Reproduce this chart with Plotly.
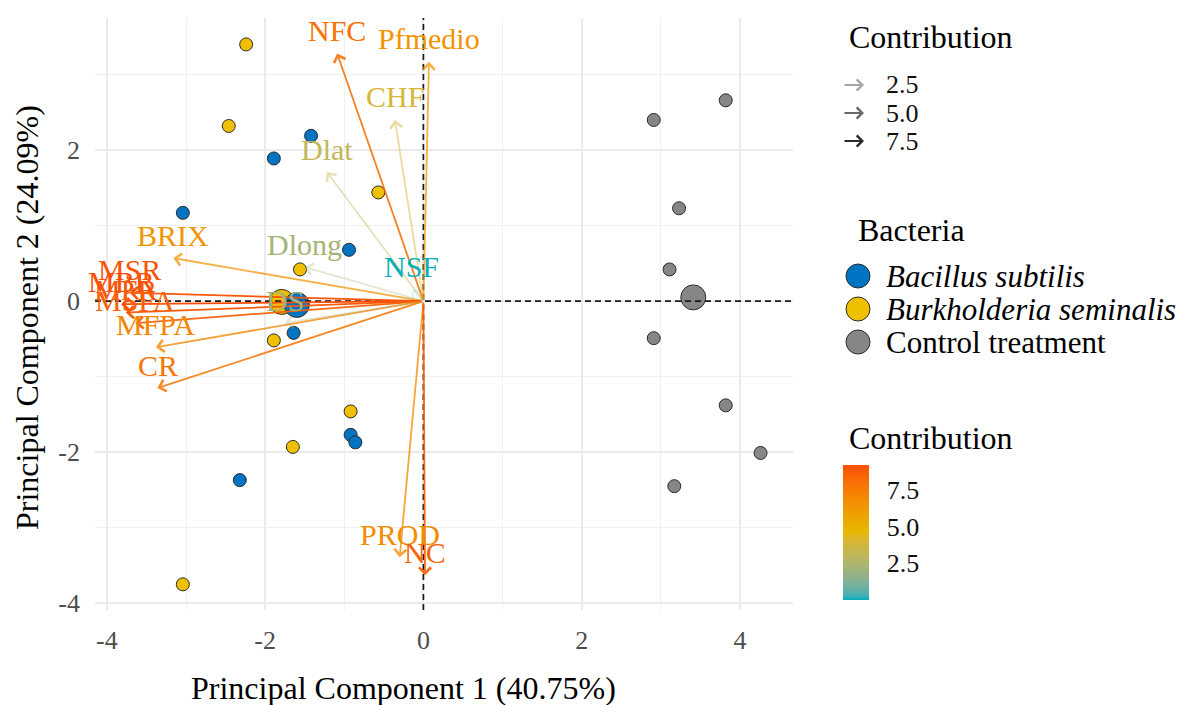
import plotly.graph_objects as go
from plotly.colors import sample_colorscale

# ---------------- data ----------------
groups = ["Bacillus subtilis", "Burkholderia seminalis", "Control treatment"]
group_colors = ["#0073C2", "#EFC000", "#868686"]

bs_pc1 = [-3.04, -1.89, -1.42, -0.94, -1.64, -0.92, -0.86, -2.32]
bs_pc2 = [1.17, 1.89, 2.19, 0.68, -0.42, -1.77, -1.87, -2.37]
bsem_pc1 = [-2.24, -2.46, -0.57, -1.56, -1.89, -0.92, -1.65, -3.04]
bsem_pc2 = [3.40, 2.32, 1.44, 0.42, -0.52, -1.46, -1.93, -3.75]
ctrl_pc1 = [2.91, 3.82, 3.23, 3.11, 2.91, 3.82, 4.26, 3.17]
ctrl_pc2 = [2.40, 2.66, 1.23, 0.42, -0.49, -1.38, -2.01, -2.45]

centroid_pc1 = [-1.60, -1.79, 3.41]
centroid_pc2 = [-0.05, -0.01, 0.05]

variables = ["NFC", "Pfmedio", "CHF", "Dlat", "Dlong", "NSF", "BRIX", "MSR",
             "MBR", "MFR", "MSFA", "MFPA", "CR", "DS", "PROD", "NC"]
var_pc1 = [-1.09, 0.07, -0.36, -1.22, -1.50, -0.15, -3.16, -3.71,
           -3.82, -3.76, -3.64, -3.38, -3.36, -1.75, -0.30, 0.02]
var_pc2 = [3.28, 3.17, 2.40, 1.71, 0.45, 0.15, 0.57, 0.11,
           -0.04, -0.15, -0.29, -0.61, -1.15, -0.29, -3.39, -3.63]
var_contrib = [8.0, 6.4, 3.9, 3.2, 2.2, 0.03, 6.4, 9.0,
               9.2, 8.9, 8.6, 7.0, 7.8, 2.0, 6.8, 8.5]

contrib_legend_vals = [2.5, 5.0, 7.5]
axis_tickvals = [-4, -2, 0, 2, 4]
axis_ticktext = ["-4", "-2", "0", "2", "4"]

x_title = "Principal Component 1 (40.75%)"
y_title = "Principal Component 2 (24.09%)"

FONT = "Liberation Serif"

# ---------------- colour helpers (Lab interpolation like ggplot) ----------------
def _hex2rgb(h):
    h = h.lstrip("#")
    return [int(h[i:i + 2], 16) / 255 for i in (0, 2, 4)]

def _lin(c):
    return c / 12.92 if c <= 0.04045 else ((c + 0.055) / 1.055) ** 2.4

def _delin(c):
    c = max(0.0, min(1.0, c))
    return 12.92 * c if c <= 0.0031308 else 1.055 * c ** (1 / 2.4) - 0.055

_WP = (0.95047, 1.0, 1.08883)

def _rgb2lab(rgb):
    r, g, b = [_lin(c) for c in rgb]
    X = 0.4124 * r + 0.3576 * g + 0.1805 * b
    Y = 0.2126 * r + 0.7152 * g + 0.0722 * b
    Z = 0.0193 * r + 0.1192 * g + 0.9505 * b
    def f(t):
        return t ** (1 / 3) if t > 0.008856 else 7.787 * t + 16 / 116
    fx, fy, fz = f(X / _WP[0]), f(Y / _WP[1]), f(Z / _WP[2])
    return [116 * fy - 16, 500 * (fx - fy), 200 * (fy - fz)]

def _lab2rgb(lab):
    L_, a, b = lab
    fy = (L_ + 16) / 116
    fx = fy + a / 500
    fz = fy - b / 200
    def fi(t):
        return t ** 3 if t ** 3 > 0.008856 else (t - 16 / 116) / 7.787
    X, Y, Z = fi(fx) * _WP[0], fi(fy) * _WP[1], fi(fz) * _WP[2]
    r = 3.2406 * X - 1.5372 * Y - 0.4986 * Z
    g = -0.9689 * X + 1.8758 * Y + 0.0415 * Z
    bb = 0.0557 * X - 0.2040 * Y + 1.0570 * Z
    return [_delin(c) for c in (r, g, bb)]

anchors = ["#00AFBB", "#E7B800", "#FC4E07"]
labs = [_rgb2lab(_hex2rgb(h)) for h in anchors]
colorscale = []
nstops = 40
for i in range(nstops + 1):
    t = i / nstops
    seg = 0 if t <= 0.5 else 1
    u = (t - 0.5 * seg) / 0.5
    lab = [labs[seg][k] + (labs[seg + 1][k] - labs[seg][k]) * u for k in range(3)]
    rgb = _lab2rgb(lab)
    colorscale.append([t, "rgb(%d,%d,%d)" % tuple(round(c * 255) for c in rgb)])

cmin, cmax = 0.0, 9.2

def norm(v):
    return (v - cmin) / (cmax - cmin)

def alpha_of(v):
    return 0.1 + 0.9 * norm(v)

def col_of(v, a=None):
    s = sample_colorscale(colorscale, [min(1, max(0, norm(v)))])[0]
    nums = s[s.index("(") + 1:s.index(")")].split(",")
    r, g, b = [int(float(n)) for n in nums]
    if a is None:
        return "rgb(%d,%d,%d)" % (r, g, b)
    return "rgba(%d,%d,%d,%.3f)" % (r, g, b, a)

# ---------------- layout geometry ----------------
W, H = 1187, 705
L, R, T, B = 95, 394, 18, 95
PW, PH = W - L - R, H - T - B

def pxx(p):
    return (p - L) / PW

def pxy(p):
    return (H - B - p) / PH

fig = go.Figure()

# individuals
for name, xs, ys, c in zip(groups, [bs_pc1, bsem_pc1, ctrl_pc1],
                           [bs_pc2, bsem_pc2, ctrl_pc2], group_colors):
    fig.add_trace(go.Scatter(x=xs, y=ys, mode="markers", name=name, showlegend=False,
                             marker=dict(size=13, color=c,
                                         line=dict(color="#2b2b2b", width=1))))

# centroids (yellow drawn first so blue sits on top as in the reference)
for i in [1, 0, 2]:
    fig.add_trace(go.Scatter(x=[centroid_pc1[i]], y=[centroid_pc2[i]], mode="markers",
                             showlegend=False,
                             marker=dict(size=25, color=group_colors[i],
                                         line=dict(color="#2b2b2b", width=1))))

# invisible trace carrying the contribution colour bar
fig.add_trace(go.Scatter(
    x=var_pc1, y=var_pc2, mode="markers", showlegend=False, hoverinfo="skip",
    marker=dict(size=1, opacity=0, color=var_contrib, colorscale=colorscale,
                cmin=cmin, cmax=cmax, showscale=True,
                colorbar=dict(x=pxx(843), xanchor="left", xpad=0,
                              y=pxy(532.5), yanchor="middle", ypad=0,
                              len=135, lenmode="pixels", thickness=26,
                              outlinewidth=0, title=dict(text=""),
                              tickvals=contrib_legend_vals,
                              ticktext=["%.1f" % v for v in contrib_legend_vals],
                              ticks="outside", ticklen=13, tickcolor="rgba(0,0,0,0)",
                              tickfont=dict(family=FONT, size=26, color="#111")))))

annotations = []
shapes = []

# dashed reference lines
shapes.append(dict(type="line", xref="paper", yref="y", x0=0, x1=1, y0=0, y1=0,
                   line=dict(color="#1a1a1a", width=1.7, dash="6px,4px"), layer="above"))
shapes.append(dict(type="line", xref="x", yref="paper", x0=0, x1=0, y0=0, y1=1,
                   line=dict(color="#1a1a1a", width=1.7, dash="6px,4px"), layer="above"))

# variable arrows
for vx, vy, c in zip(var_pc1, var_pc2, var_contrib):
    annotations.append(dict(x=vx, y=vy, ax=0, ay=0, xref="x", yref="y",
                            axref="x", ayref="y", text="", showarrow=True,
                            arrowhead=4, arrowsize=1.3, arrowwidth=1.8,
                            arrowcolor=col_of(c, alpha_of(c)), standoff=0))
# variable labels
for name, vx, vy, c in zip(variables, var_pc1, var_pc2, var_contrib):
    annotations.append(dict(x=vx, y=vy, xref="x", yref="y", text=name,
                            showarrow=False, yshift=23,
                            font=dict(family=FONT, size=30, color=col_of(c))))

# axis titles
annotations.append(dict(x=pxx(403), y=pxy(688), xref="paper", yref="paper",
                        text=x_title, showarrow=False, xanchor="center", yanchor="middle",
                        font=dict(family=FONT, size=32, color="black")))
annotations.append(dict(x=pxx(27), y=pxy(318), xref="paper", yref="paper",
                        text=y_title, showarrow=False, textangle=-90,
                        xanchor="center", yanchor="middle",
                        font=dict(family=FONT, size=32, color="black")))

# legend: Contribution (alpha)
annotations.append(dict(x=pxx(847), y=pxy(37), xref="paper", yref="paper",
                        text="Contribution", showarrow=False, xanchor="left",
                        yanchor="middle", font=dict(family=FONT, size=32, color="black")))
for i, v in enumerate(contrib_legend_vals):
    yy = 85 + i * 28
    annotations.append(dict(x=pxx(864), y=pxy(yy), xref="paper", yref="paper",
                            ax=-21, ay=0, axref="pixel", ayref="pixel", text="",
                            showarrow=True, arrowhead=4, arrowsize=1.2, arrowwidth=1.8,
                            arrowcolor="rgba(0,0,0,%.3f)" % alpha_of(v), standoff=0))
    annotations.append(dict(x=pxx(884), y=pxy(yy), xref="paper", yref="paper",
                            text="%.1f" % v, showarrow=False, xanchor="left",
                            yanchor="middle", font=dict(family=FONT, size=26, color="#111")))

# legend: Bacteria
annotations.append(dict(x=pxx(856), y=pxy(230), xref="paper", yref="paper",
                        text="Bacteria", showarrow=False, xanchor="left",
                        yanchor="middle", font=dict(family=FONT, size=32, color="black")))
for i, (name, c) in enumerate(zip(groups, group_colors)):
    yy = 276 + i * 33
    shapes.append(dict(type="circle", xref="paper", yref="paper",
                       xsizemode="pixel", ysizemode="pixel",
                       xanchor=pxx(858), yanchor=pxy(yy),
                       x0=-12, x1=12, y0=-12, y1=12,
                       fillcolor=c, line=dict(color="#2b2b2b", width=1)))
    txt = name if name == "Control treatment" else "<i>%s</i>" % name
    annotations.append(dict(x=pxx(884), y=pxy(yy), xref="paper", yref="paper",
                            text=txt, showarrow=False, xanchor="left",
                            yanchor="middle", font=dict(family=FONT, size=31, color="black")))

# colour-bar title
annotations.append(dict(x=pxx(847), y=pxy(438), xref="paper", yref="paper",
                        text="Contribution", showarrow=False, xanchor="left",
                        yanchor="middle", font=dict(family=FONT, size=32, color="black")))

axis_common = dict(showline=False, zeroline=False, ticks="",
                   tickvals=axis_tickvals, ticktext=axis_ticktext,
                   gridcolor="#EBEBEB", gridwidth=1.6,
                   minor=dict(dtick=1, tick0=0, showgrid=True, gridcolor="#F0F0F0",
                              gridwidth=1),
                   tickfont=dict(family=FONT, size=26, color="#4D4D4D"))

fig.update_layout(
    width=W, height=H, margin=dict(l=L, r=R, t=T, b=B, pad=0),
    paper_bgcolor="white", plot_bgcolor="white", showlegend=False,
    xaxis=dict(range=[-4.15, 4.67], ticklabelstandoff=12, **axis_common),
    yaxis=dict(range=[-4.09, 3.75], ticklabelstandoff=14, **axis_common),
    annotations=annotations, shapes=shapes,
    font=dict(family=FONT),
)

fig.write_html("out.html")
